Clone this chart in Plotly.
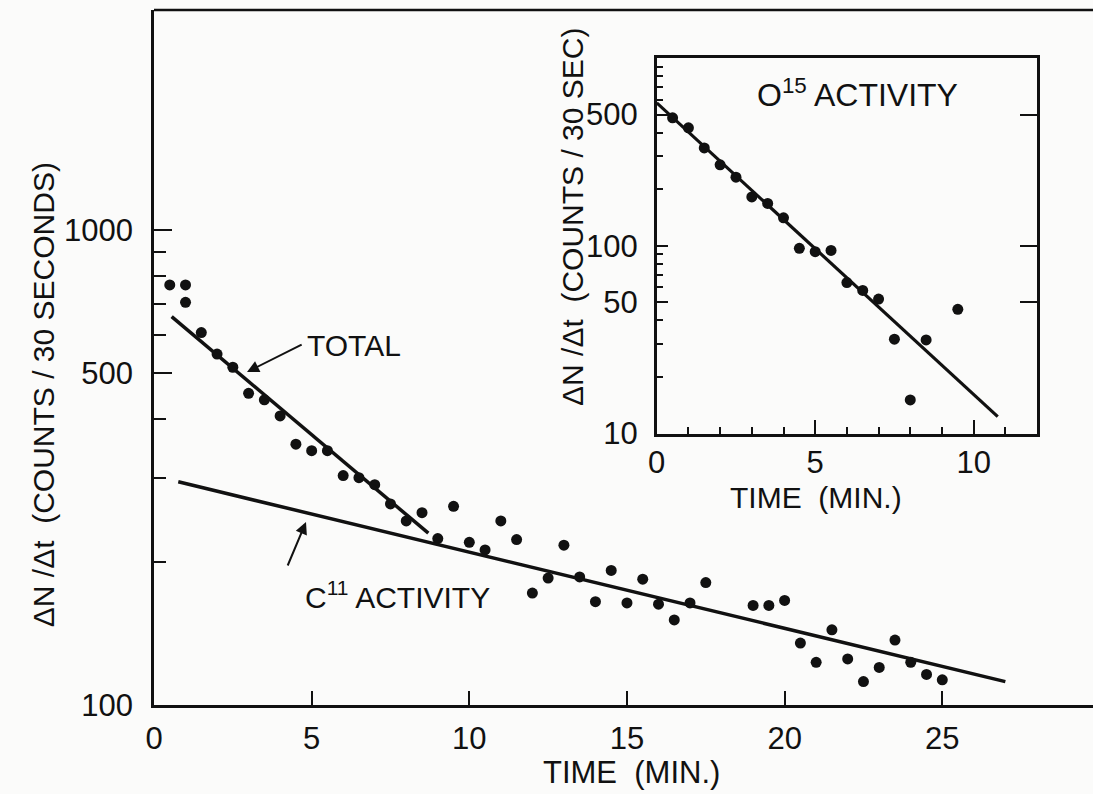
import numpy as np
import plotly.graph_objects as go

# ---------------- data ----------------
t_main = [0.5, 1.0, 1.0, 1.5, 2.0, 2.5, 3.0, 3.5, 4.0, 4.5, 5.0, 5.5, 6.0, 6.5, 7.0, 7.5,
          8.0, 8.5, 9.0, 9.5, 10.0, 10.5, 11.0, 11.5, 12.0, 12.5, 13.0, 13.5, 14.0, 14.5,
          15.0, 15.5, 16.0, 16.5, 17.0, 17.5, 19.0, 19.5, 20.0, 20.5, 21.0, 21.5, 22.0,
          22.5, 23.0, 23.5, 24.0, 24.5, 25.0]
counts_main = [766, 766, 704, 608, 548, 514, 453, 439, 406, 354, 343, 343, 304, 301, 291, 265,
               244, 254, 224, 262, 220, 212, 244, 223, 172, 185, 217, 186, 165, 192,
               164, 184, 163, 151, 164, 181, 162, 162, 166, 135, 123, 144, 125,
               112, 120, 137, 123, 116, 113]

total_t = [0.56, 8.7]
total_counts = [657, 230]
c11_t = [0.77, 27.0]
c11_counts = [295, 112]

t_o15 = [0.5, 1.0, 1.5, 2.0, 2.5, 3.0, 3.5, 4.0, 4.5, 5.0, 5.5, 6.0, 6.5, 7.0, 7.5, 8.0, 8.5, 9.5]
counts_o15 = [480, 425, 332, 270, 232, 182, 168, 141, 97, 93, 94.5, 63.7, 57.8, 52, 31.8, 15.1, 31.5, 45.9]
o15_line_t = [0.0, 10.76]
o15_line_counts = [577, 12.3]

main_xticks = [0, 5, 10, 15, 20, 25]
main_yticks = [100, 500, 1000]
main_yminor = [200, 300, 400, 600, 700, 800, 900]
inset_xticks = [0, 5, 10]
inset_xminor = [1, 2, 3, 4, 6, 7, 8, 9, 11]
inset_yticks = [10, 50, 100, 500]
inset_yminor = [20, 30, 40, 60, 70, 80, 90, 200, 300, 400, 600, 700, 800, 900]
inset_right_ticks = [50, 100, 500]

FONT = "Liberation Sans, Arial, DejaVu Sans, sans-serif"
INK = "#111111"
BG = "#fbfbfa"

fig = go.Figure()

# main plot
fig.add_trace(go.Scatter(x=t_main, y=counts_main, mode="markers",
                         marker=dict(size=11, color=INK), xaxis="x", yaxis="y",
                         showlegend=False))
fig.add_trace(go.Scatter(x=total_t, y=total_counts, mode="lines",
                         line=dict(color=INK, width=3.5), xaxis="x", yaxis="y",
                         showlegend=False))
fig.add_trace(go.Scatter(x=c11_t, y=c11_counts, mode="lines",
                         line=dict(color=INK, width=3.5), xaxis="x", yaxis="y",
                         showlegend=False))

# inset
fig.add_trace(go.Scatter(x=t_o15, y=counts_o15, mode="markers",
                         marker=dict(size=11, color=INK), xaxis="x2", yaxis="y2",
                         showlegend=False))
fig.add_trace(go.Scatter(x=o15_line_t, y=o15_line_counts, mode="lines",
                         line=dict(color=INK, width=3.2), xaxis="x2", yaxis="y2",
                         showlegend=False))
fig.add_trace(go.Scatter(x=[0], y=[10], mode="markers", marker=dict(opacity=0),
                         xaxis="x2", yaxis="y3", showlegend=False, hoverinfo="skip"))

axis_common = dict(showgrid=False, zeroline=False, showline=True, linecolor=INK,
                   linewidth=2.5, ticks="inside", tickcolor=INK, tickwidth=2)
numfont = dict(family=FONT, size=31, color=INK)

fig.update_layout(
    width=1093, height=794,
    margin=dict(l=154, r=0, t=10, b=89),
    paper_bgcolor=BG, plot_bgcolor=BG,
    xaxis=dict(domain=[0, 1], range=[0, 29.78], tickvals=main_xticks, ticklen=14,
               ticklabelstandoff=4, tickfont=numfont, anchor="y", **axis_common),
    yaxis=dict(domain=[0, 1], type="log", range=[2, 3.463], tickvals=main_yticks,
               ticktext=[str(v) for v in main_yticks], ticklen=18,
               ticklabelstandoff=12,
               minor=dict(tickvals=main_yminor, ticklen=12, ticks="inside",
                          tickcolor=INK, tickwidth=2),
               tickfont=numfont, anchor="x", **axis_common),
    xaxis2=dict(domain=[0.5354, 0.9404], range=[0, 12], tickvals=inset_xticks,
                ticklen=14, mirror=True,
                minor=dict(tickvals=inset_xminor, ticklen=7, ticks="inside",
                           tickcolor=INK, tickwidth=2),
                tickfont=numfont, anchor="y2", **axis_common),
    yaxis2=dict(domain=[0.3906, 0.9309], type="log", range=[1, 3],
                tickvals=inset_yticks, ticktext=[str(v) for v in inset_yticks],
                ticklen=12, mirror=True, ticklabelstandoff=10,
                minor=dict(tickvals=inset_yminor, ticklen=7, ticks="inside",
                           tickcolor=INK, tickwidth=2),
                tickfont=numfont, anchor="x2", **axis_common),
    yaxis3=dict(overlaying="y2", side="right", anchor="x2", type="log", range=[1, 3],
                tickvals=inset_right_ticks, showticklabels=False, ticks="inside",
                ticklen=17, tickwidth=2, tickcolor=INK, showgrid=False,
                zeroline=False, showline=False),
    showlegend=False,
)

# top border of main plot (no right border)
fig.add_shape(type="line", xref="paper", yref="paper", x0=0, x1=1, y0=1, y1=1,
              line=dict(color=INK, width=2.5))

tfont = dict(family=FONT, size=30, color=INK)
annots = [
    # axis titles
    dict(text="TIME  (MIN.)", xref="paper", yref="paper", x=0.509, y=-0.097,
         xanchor="center", yanchor="middle", showarrow=False,
         font=dict(family=FONT, size=31, color=INK)),
    dict(text="ΔN /Δt  (COUNTS / 30 SECONDS)", xref="paper", yref="paper",
         x=-0.118, y=0.446, xanchor="center", yanchor="middle", textangle=-90,
         showarrow=False, font=tfont),
    dict(text="TIME  (MIN.)", xref="paper", yref="paper", x=0.705, y=0.299,
         xanchor="center", yanchor="middle", showarrow=False, font=tfont),
    dict(text="ΔN /Δt  (COUNTS / 30 SEC)", xref="paper", yref="paper",
         x=0.445, y=0.702, xanchor="center", yanchor="middle", textangle=-90,
         showarrow=False, font=tfont),
    # labels
    dict(text="TOTAL", xref="x", yref="y", x=4.79, y=2.756, xanchor="left",
         yanchor="middle", showarrow=False, font=tfont),
    dict(text="", xref="x", yref="y", x=2.95, y=2.701, axref="x", ayref="y",
         ax=4.73, ay=2.760, showarrow=True, arrowhead=2, arrowsize=1.2,
         arrowwidth=2, arrowcolor=INK),
    dict(text="C<sup>11</sup> ACTIVITY", xref="x", yref="y", x=10.73, y=2.232,
         xanchor="right", yanchor="middle", showarrow=False, font=tfont),
    dict(text="", xref="x", yref="y", x=4.82, y=2.385, axref="x", ayref="y",
         ax=4.22, ay=2.2905, showarrow=True, arrowhead=2, arrowsize=1.2,
         arrowwidth=2, arrowcolor=INK),
    dict(text="O<sup>15</sup> ACTIVITY", xref="x2", yref="y2", x=6.32, y=2.815,
         xanchor="center", yanchor="middle", showarrow=False,
         font=dict(family=FONT, size=32, color=INK)),
]
fig.update_layout(annotations=annots)

fig.write_html("out.html")
